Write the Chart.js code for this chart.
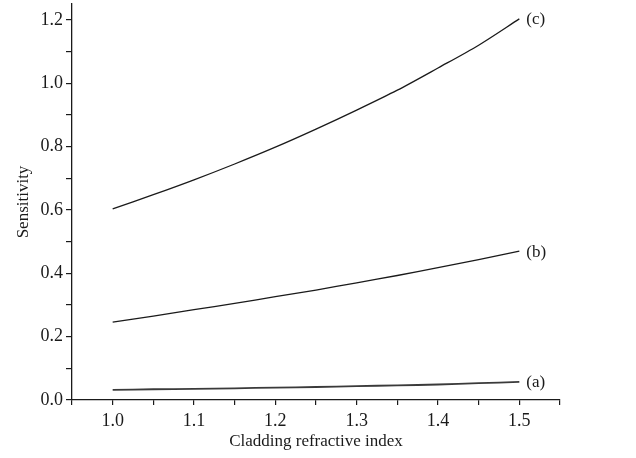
<!DOCTYPE html>
<html>
<head>
<meta charset="utf-8">
<script src="https://cdn.jsdelivr.net/npm/chart.js@4"></script>
<style>
  html, body { margin: 0; padding: 0; background: #fff; }
  #wrap { width: 636px; height: 458px; }
</style>
</head>
<body>
<div id="wrap"><canvas id="myChart" width="636" height="458"></canvas></div>
<script>
// cladding refractive index
const indexValues = [1.00, 1.05, 1.10, 1.15, 1.20, 1.25, 1.30, 1.35, 1.40, 1.45, 1.50]

// sensitivity curves
const curveA = [0.032, 0.034, 0.035, 0.037, 0.039, 0.041, 0.044, 0.046, 0.049, 0.053, 0.057]
const curveB = [0.246, 0.265, 0.285, 0.305, 0.326, 0.347, 0.370, 0.393, 0.418, 0.443, 0.470]
const curveC = [0.603, 0.648, 0.695, 0.745, 0.798, 0.855, 0.915, 0.978, 1.048, 1.120, 1.203]

const curveNames = ["(a)", "(b)", "(c)"]

// tick positions (labels only on every other one)
const xTicks = [0.95, 1.00, 1.05, 1.10, 1.15, 1.20, 1.25, 1.30, 1.35, 1.40, 1.45, 1.50, 1.55]
const yTicks = [0.0, 0.1, 0.2, 0.3, 0.4, 0.5, 0.6, 0.7, 0.8, 0.9, 1.0, 1.1, 1.2]

const family = "'Liberation Serif', 'Times New Roman', serif"
const tickFont = { family: family, size: 18 }
const titleFont = { family: family, size: 17 }
const ink = "#1a1a1a"

function toPoints(ys) {
    return indexValues.map((x, i) => ({ x: x, y: ys[i] }))
}

// writes (a), (b), (c) just past the end of each curve
const endLabels = {
    id: 'endLabels',
    afterDatasetsDraw(chart) {
        const ctx = chart.ctx
        ctx.save()
        ctx.font = "17px " + family
        ctx.fillStyle = ink
        ctx.textAlign = 'left'
        ctx.textBaseline = 'middle'
        chart.data.datasets.forEach((ds, i) => {
            const pts = chart.getDatasetMeta(i).data
            const last = pts[pts.length - 1]
            ctx.fillText(ds.label, last.x + 7, last.y + 1)
        })
        ctx.restore()
    }
}

const ctx = document.getElementById("myChart").getContext("2d")

new Chart(ctx, {
    type: 'line',
    data: {
        datasets: [
            { label: curveNames[0], data: toPoints(curveA), borderColor: "#3a3a3a", borderWidth: 1.8 },
            { label: curveNames[1], data: toPoints(curveB), borderColor: ink, borderWidth: 1.3 },
            { label: curveNames[2], data: toPoints(curveC), borderColor: ink, borderWidth: 1.3 }
        ]
    },
    options: {
        responsive: false,
        animation: false,
        layout: { padding: { top: 4, right: 76, left: 0, bottom: 0 } },
        elements: { point: { radius: 0 }, line: { tension: 0.3 } },
        plugins: { legend: { display: false }, tooltip: { enabled: false } },
        scales: {
            x: {
                type: 'linear',
                min: 0.95,
                max: 1.55,
                afterFit: (scale) => { scale.height = 58 },
                afterBuildTicks: (scale) => { scale.ticks = xTicks.map(v => ({ value: v })) },
                border: { display: true, color: ink, width: 1.3 },
                grid: { drawOnChartArea: false, drawTicks: true, tickLength: 5, color: ink, lineWidth: 1.2 },
                ticks: {
                    autoSkip: false,
                    maxRotation: 0,
                    padding: 5,
                    color: ink,
                    font: tickFont,
                    callback: (v) => Math.round(v * 100) % 10 === 0 ? v.toFixed(1) : ''
                },
                title: {
                    display: true,
                    text: "Cladding refractive index",
                    color: ink,
                    font: titleFont,
                    padding: { top: 0, bottom: 6 }
                }
            },
            y: {
                type: 'linear',
                min: 0,
                max: 1.25,
                afterFit: (scale) => {
                    scale.width = 72
                    // top label sits below the axis end, so no extra room needed
                    scale.paddingTop = 0
                },
                afterBuildTicks: (scale) => { scale.ticks = yTicks.map(v => ({ value: v })) },
                border: { display: true, color: ink, width: 1.3 },
                grid: { drawOnChartArea: false, drawTicks: true, tickLength: 6, color: ink, lineWidth: 1.2 },
                ticks: {
                    autoSkip: false,
                    padding: 3,
                    color: ink,
                    font: tickFont,
                    callback: (v) => Math.round(v * 10) % 2 === 0 ? v.toFixed(1) : ''
                },
                title: {
                    display: true,
                    text: "Sensitivity",
                    color: ink,
                    font: titleFont,
                    padding: { top: 13, bottom: 0 }
                }
            }
        }
    },
    plugins: [endLabels]
})
</script>
</body>
</html>
